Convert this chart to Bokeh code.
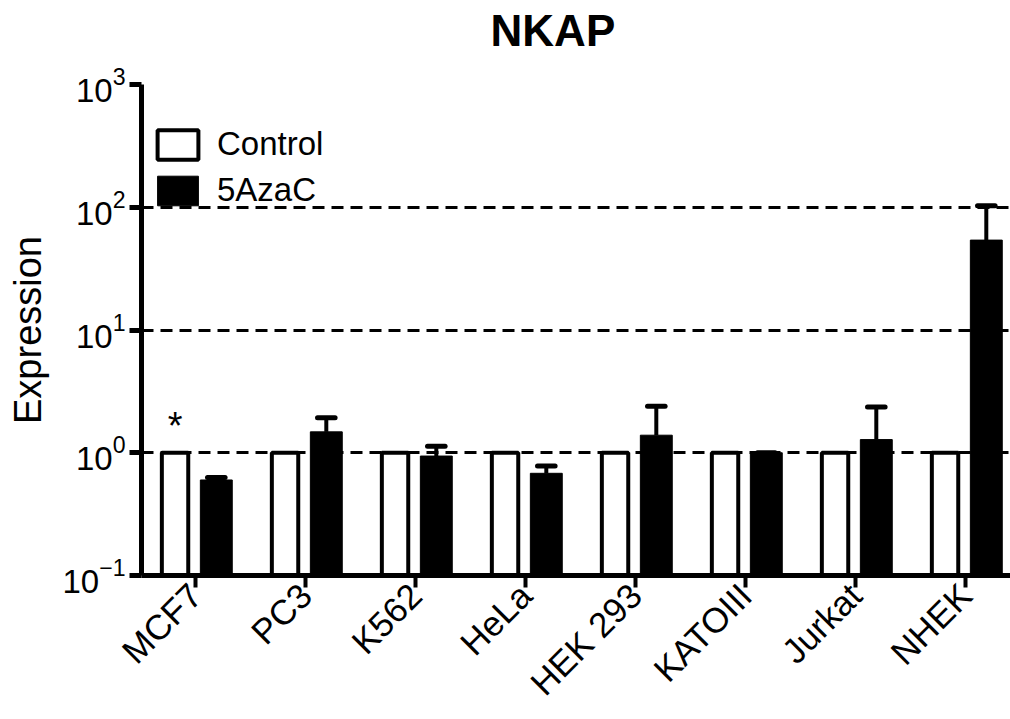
import math

from bokeh.core.properties import value
from bokeh.embed import file_html
from bokeh.models import (ColumnDataSource, FixedTicker, Legend, LegendItem,
                          LinearAxis, LogTickFormatter, Range1d)
from bokeh.plotting import figure
from bokeh.resources import INLINE

# Relative NKAP expression per cell line (control normalised to 1)
cell_lines = ["MCF7", "PC3", "K562", "HeLa", "HEK 293", "KATOIII", "Jurkat", "NHEK"]
control = [1.0, 1.0, 1.0, 1.0, 1.0, 1.0, 1.0, 1.0]
aza = [0.60, 1.48, 0.94, 0.68, 1.39, 1.00, 1.28, 54.0]
aza_err = [0.03, 0.45, 0.19, 0.10, 1.00, 0.00, 1.08, 49.0]
significant = ["MCF7"]
y_ticks = [0.1, 1, 10, 100, 1000]
grid_ticks = [1, 10, 100, 1000]
heading = "NKAP"

FONT = "Liberation Sans"
X_START, X_END = -0.49, 7.41
HEADING_X = 3.25          # heading centre, in category units along x
CTRL_SHIFT, AZA_SHIFT = -0.185, 0.19
CTRL_W, AZA_W = 0.24, 0.29
CAP_HALF = 0.08

idx = list(range(len(cell_lines)))
ctrl_src = ColumnDataSource(dict(x=[i + CTRL_SHIFT for i in idx], top=control))
aza_src = ColumnDataSource(dict(
    x=[i + AZA_SHIFT for i in idx],
    top=aza,
    hi=[v + e for v, e in zip(aza, aza_err)],
    x0=[i + AZA_SHIFT - CAP_HALF for i in idx],
    x1=[i + AZA_SHIFT + CAP_HALF for i in idx],
))
star_src = ColumnDataSource(dict(
    x=[cell_lines.index(c) + CTRL_SHIFT for c in significant],
    y=[control[cell_lines.index(c)] for c in significant],
    t=["*" for _ in significant],
))

p = figure(
    width=1010, height=719,
    x_range=Range1d(X_START, X_END), y_range=Range1d(0.1, 1000),
    y_axis_type="log",
    output_backend="svg", toolbar_location=None,
    min_border_left=141, min_border_right=0,
    min_border_top=84, min_border_bottom=143,
)
p.outline_line_color = None
p.background_fill_color = "white"
p.border_fill_color = "white"
p.title.text = ""
p.title.standoff = 0

# heading: a bare axis above the frame carrying a single bold label
head_axis = LinearAxis(
    ticker=FixedTicker(ticks=[HEADING_X], minor_ticks=[]),
    major_label_overrides={HEADING_X: heading},
    axis_line_color=None, major_tick_line_color=None, minor_tick_line_color=None,
    major_tick_out=0, major_tick_in=0, major_label_standoff=30,
    major_label_text_font=FONT, major_label_text_font_size="44px",
    major_label_text_font_style="bold", major_label_text_color="black",
)
p.add_layout(head_axis, "above")

# bars
ctrl_r = p.vbar(x="x", top="top", bottom=0.1, width=CTRL_W, source=ctrl_src,
                fill_color="white", line_color="black", line_width=4)
aza_r = p.vbar(x="x", top="top", bottom=0.1, width=AZA_W, source=aza_src,
               fill_color="black", line_color="black", line_width=1)

# upper error bars
p.segment(x0="x", y0="top", x1="x", y1="hi", source=aza_src,
          line_color="black", line_width=4)
p.segment(x0="x0", y0="hi", x1="x1", y1="hi", source=aza_src,
          line_color="black", line_width=5, line_cap="round")

# significance marker
p.text(x="x", y="y", text="t", source=star_src, text_font=value(FONT),
       text_font_size="38px", text_align="center", text_baseline="alphabetic",
       y_offset=-27, text_color="black")

# grid
p.xgrid.visible = False
p.ygrid.ticker = FixedTicker(ticks=grid_ticks, minor_ticks=[])
p.ygrid.grid_line_color = "black"
p.ygrid.grid_line_width = 3
p.ygrid.grid_line_dash = "12 7"

# axes
xaxis = p.below[0]
yaxis = p.left[0]
for ax in (xaxis, yaxis):
    ax.axis_line_width = 5
    ax.axis_line_color = "black"
    ax.major_tick_line_width = 5
    ax.major_tick_line_color = "black"
    ax.major_tick_out = 12
    ax.major_tick_in = 0
    ax.minor_tick_line_color = None
    ax.major_label_text_font = FONT
    ax.major_label_text_color = "black"

yaxis.ticker = FixedTicker(ticks=y_ticks, minor_ticks=[])
yaxis.formatter = LogTickFormatter()
yaxis.major_label_text_font_size = "33px"
yaxis.major_label_standoff = 4
yaxis.axis_label = "Expression"
yaxis.axis_label_text_font = FONT
yaxis.axis_label_text_font_size = "38px"
yaxis.axis_label_text_font_style = "normal"
yaxis.axis_label_text_color = "black"
yaxis.axis_label_standoff = 10

xaxis.ticker = FixedTicker(ticks=idx, minor_ticks=[])
xaxis.major_label_overrides = {i: name for i, name in zip(idx, cell_lines)}
xaxis.major_label_orientation = math.pi / 4
xaxis.major_label_text_font_size = "35px"
xaxis.major_label_standoff = 2
xaxis.major_tick_line_width = 4

# legend
legend = Legend(
    items=[LegendItem(label="Control", renderers=[ctrl_r]),
           LegendItem(label="5AzaC", renderers=[aza_r])],
    location=(11, 366),
    glyph_width=51, glyph_height=37,
    label_text_font=FONT, label_text_font_size="33px", label_text_color="black",
    label_standoff=14, spacing=8, padding=0,
    border_line_color=None, background_fill_alpha=0,
)
p.add_layout(legend)

open("out.html", "w").write(file_html(p, INLINE))
